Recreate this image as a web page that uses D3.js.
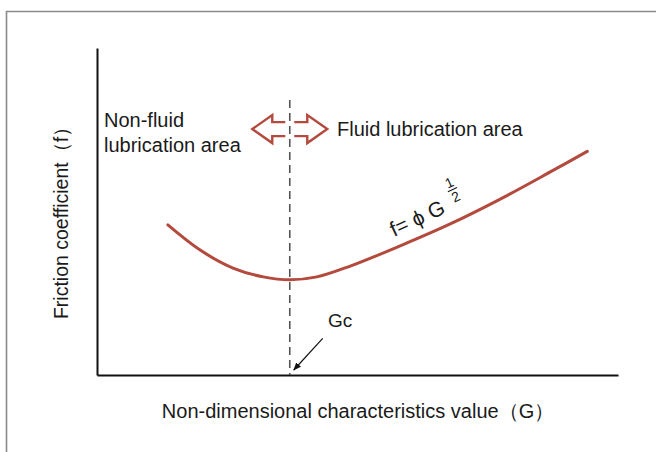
<!DOCTYPE html>
<html>
<head>
<meta charset="utf-8">
<script src="https://cdn.jsdelivr.net/npm/d3@7"></script>
<style>
  body { margin: 0; background: #fff; }
  svg text { font-family: "Liberation Sans", Arial, Helvetica, sans-serif; fill: #1a1a1a; }
</style>
</head>
<body>
<div id="chart"></div>
<script>
// curve (arbitrary units, 0..10 on both axes)
var gValues = [1.36, 1.98, 2.61, 3.19, 3.70, 4.22, 4.86, 5.82, 6.78, 7.74, 8.70, 9.41];
var fValues = [4.59, 3.82, 3.27, 3.00, 2.91, 3.00, 3.33, 3.95, 4.62, 5.38, 6.21, 6.84];
var gCritical = 3.70;
var xTitle = "Non-dimensional characteristics value\uFF08G\uFF09";
var yTitle = "Friction coefficient\uFF08f\uFF09";
var leftArea = ["Non-fluid", "lubrication area"];
var rightArea = "Fluid lubrication area";

var width = 656, height = 452;
var red = "#b44a3d";

var svg = d3.select("#chart").append("svg")
    .attr("width", width)
    .attr("height", height);

var x = d3.scaleLinear().domain([0, 10]).range([97, 618]);
var y = d3.scaleLinear().domain([0, 10]).range([375, 48]);

// outer frame (top + left edge only)
svg.append("path")
    .attr("d", "M6.5," + height + "V11.5H" + width)
    .attr("fill", "none")
    .attr("stroke", "#8a8a8a")
    .attr("stroke-width", 1.6);

// axes without ticks
var yAxis = d3.axisLeft(y).tickValues([]).tickSizeOuter(0);
var xAxis = d3.axisBottom(x).tickValues([]).tickSizeOuter(0);
var yG = svg.append("g").attr("transform", "translate(" + x(0) + ",0)").call(yAxis);
var xG = svg.append("g").attr("transform", "translate(0," + y(0) + ")").call(xAxis);
[yG, xG].forEach(function (g) {
    g.select(".domain").attr("stroke", "#111").attr("stroke-width", 2);
});

// Gc dashed line
svg.append("line")
    .attr("x1", x(gCritical)).attr("x2", x(gCritical))
    .attr("y1", y(8.41)).attr("y2", y(0))
    .attr("stroke", "#555")
    .attr("stroke-width", 1.6)
    .attr("stroke-dasharray", "8,5");

// friction curve
var pts = gValues.map(function (g, i) { return [g, fValues[i]]; });
var line = d3.line()
    .x(function (d) { return x(d[0]); })
    .y(function (d) { return y(d[1]); })
    .curve(d3.curveCatmullRom.alpha(0.5));
svg.append("path")
    .datum(pts)
    .attr("d", line)
    .attr("fill", "none")
    .attr("stroke", red)
    .attr("stroke-width", 3)
    .attr("stroke-linecap", "round");

// hollow double arrow around Gc
var ax = x(gCritical), ay = y(7.52);
var leftArrow = [[-4.5, -7], [-17.5, -7], [-17.5, -14], [-37.5, 0], [-17.5, 14], [-17.5, 7], [-4.5, 7]];
var rightArrow = leftArrow.map(function (p) { return [-p[0], p[1]]; });
[leftArrow, rightArrow].forEach(function (a) {
    svg.append("path")
        .attr("transform", "translate(" + ax + "," + ay + ")")
        .attr("d", d3.line()(a))
        .attr("fill", "none")
        .attr("stroke", red)
        .attr("stroke-width", 2.4)
        .attr("stroke-linejoin", "miter");
});

// area labels
svg.append("text")
    .attr("x", 104).attr("y", 127)
    .style("font-size", "20px")
    .text(leftArea[0]);
svg.append("text")
    .attr("x", 104).attr("y", 152)
    .style("font-size", "20px")
    .text(leftArea[1]);
svg.append("text")
    .attr("x", 337).attr("y", 136)
    .style("font-size", "20px")
    .text(rightArea);

// formula along the curve
var fg = svg.append("g").attr("transform", "translate(394,237) rotate(-25)");
fg.append("text")
    .attr("x", 0).attr("y", 0)
    .style("font-size", "21px")
    .text("f= \u03D5 G");
fg.append("text")
    .attr("x", 73).attr("y", -21)
    .attr("text-anchor", "middle")
    .style("font-size", "14px")
    .text("1");
fg.append("line")
    .attr("x1", 68).attr("x2", 78)
    .attr("y1", -18.3).attr("y2", -18.3)
    .attr("stroke", "#1a1a1a").attr("stroke-width", 1.2);
fg.append("text")
    .attr("x", 73).attr("y", -5.5)
    .attr("text-anchor", "middle")
    .style("font-size", "14px")
    .text("2");

// Gc pointer
svg.append("defs").append("marker")
    .attr("id", "tip")
    .attr("viewBox", "0 0 10 10")
    .attr("refX", 9).attr("refY", 5)
    .attr("markerWidth", 8).attr("markerHeight", 8)
    .attr("markerUnits", "userSpaceOnUse")
    .attr("orient", "auto")
    .append("path")
    .attr("d", "M0,1L10,5L0,9z")
    .attr("fill", "#111");
svg.append("line")
    .attr("x1", 322.7).attr("y1", 338.3)
    .attr("x2", x(gCritical) + 4).attr("y2", y(0) - 5)
    .attr("stroke", "#111")
    .attr("stroke-width", 1.2)
    .attr("marker-end", "url(#tip)");
svg.append("text")
    .attr("x", 328).attr("y", 327)
    .style("font-size", "19px")
    .text("Gc");

// axis titles
svg.append("text")
    .attr("transform", "translate(68,218) rotate(-90)")
    .attr("text-anchor", "middle")
    .style("font-size", "19.5px")
    .text(yTitle);
svg.append("text")
    .attr("x", 358).attr("y", 418)
    .attr("text-anchor", "middle")
    .style("font-size", "20px")
    .text(xTitle);
</script>
</body>
</html>
